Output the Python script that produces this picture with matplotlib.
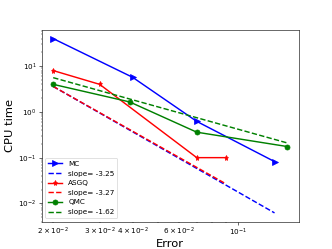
import matplotlib
matplotlib.use("Agg")
import matplotlib.pyplot as plt

# data
mc_err = [0.02, 0.04, 0.07, 0.138]
mc_cpu = [40.0, 5.7, 0.62, 0.082]
mc_fit_err = [0.02, 0.138]
mc_fit_cpu = [3.6, 0.0062]

asgq_err = [0.02, 0.03, 0.07, 0.09]
asgq_cpu = [8.0, 4.0, 0.1, 0.1]
asgq_fit_err = [0.02, 0.09]
asgq_fit_cpu = [3.6, 0.027]

qmc_err = [0.02, 0.039, 0.07, 0.154]
qmc_cpu = [4.0, 1.65, 0.36, 0.175]
qmc_fit_err = [0.02, 0.154]
qmc_fit_cpu = [5.6, 0.21]

fig = plt.figure(figsize=(6.4, 4.8), dpi=51.875)
plt.loglog(mc_err, mc_cpu, 'b>-', lw=2, ms=7, label="MC")
plt.loglog(mc_fit_err, mc_fit_cpu, 'b--', lw=2, label="slope= -3.25")
plt.loglog(asgq_err, asgq_cpu, 'r*-', lw=2, ms=7, label="ASGQ")
plt.loglog(asgq_fit_err, asgq_fit_cpu, 'r--', lw=2, label="slope= -3.27")
plt.loglog(qmc_err, qmc_cpu, 'go-', lw=2, ms=7, label="QMC")
plt.loglog(qmc_fit_err, qmc_fit_cpu, 'g--', lw=2, label="slope= -1.62")
plt.xlabel('Error', fontsize=16, labelpad=2)
plt.ylabel('CPU time', fontsize=16)
plt.legend(loc='lower left')
plt.savefig("out.png", dpi=51.875)
